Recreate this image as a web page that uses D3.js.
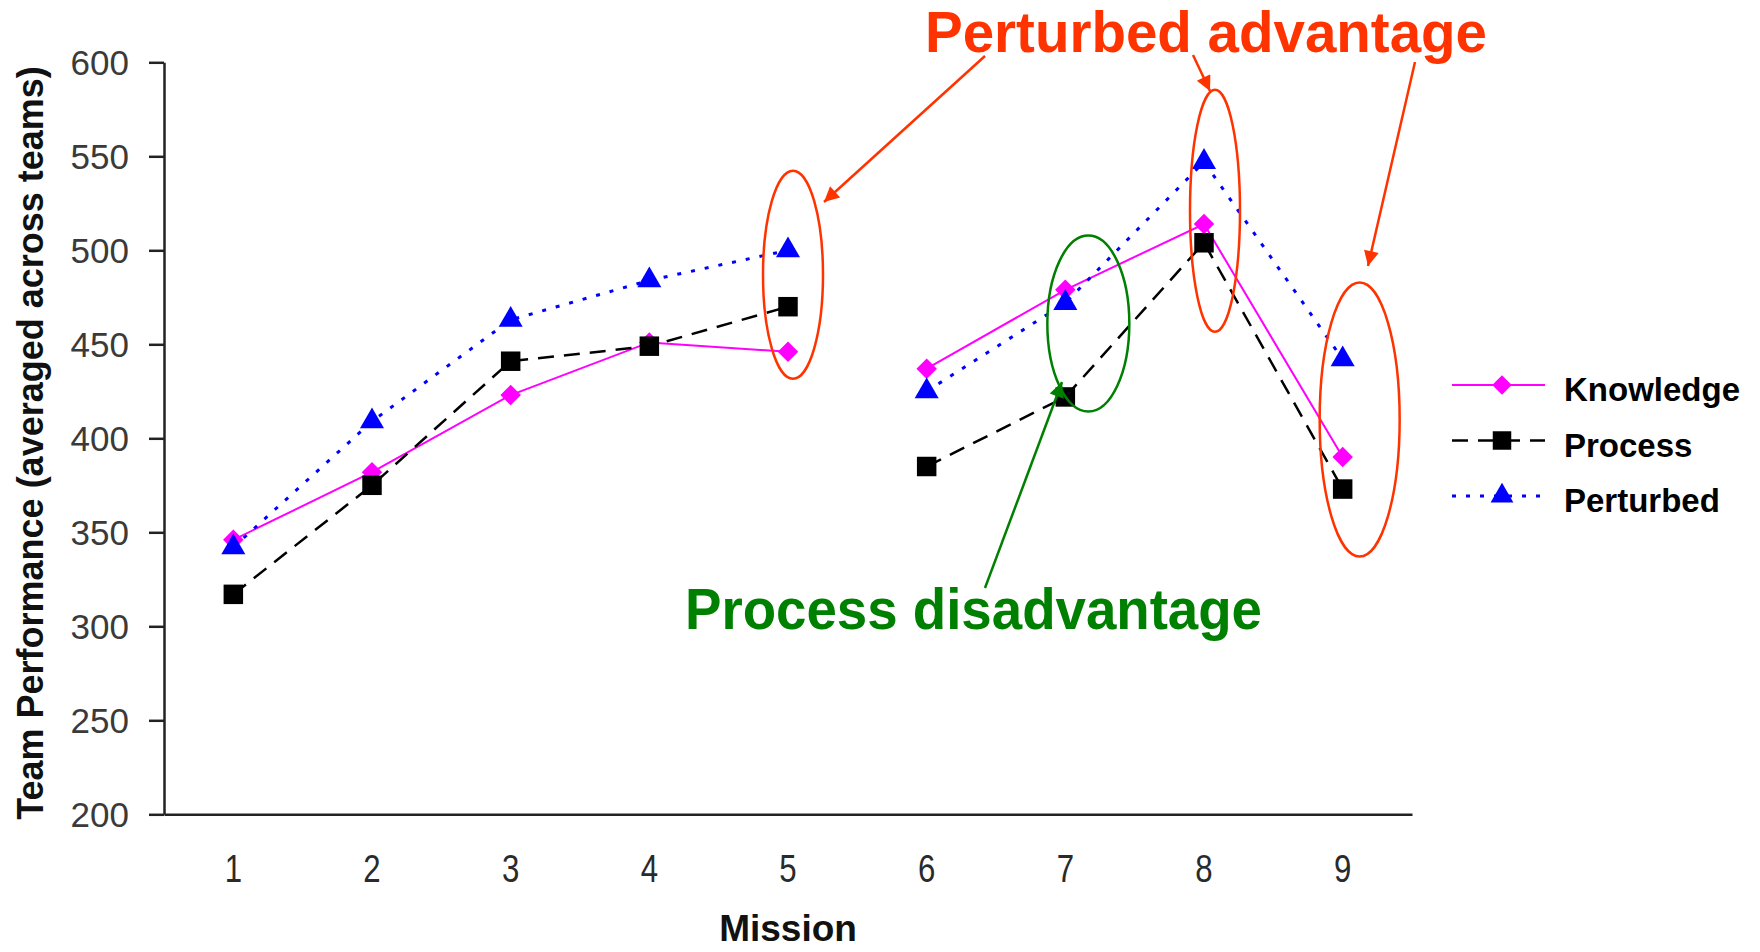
<!DOCTYPE html>
<html>
<head>
<meta charset="utf-8">
<script src="https://cdn.jsdelivr.net/npm/d3@7"></script>
<style>
  html, body { margin: 0; padding: 0; background: #fff; }
  svg { display: block; }
</style>
</head>
<body>
<svg id="chart" width="1760" height="952"></svg>
<script>
// Mission numbers and the session each mission belongs to (lines break between sessions)
const missions = ["1", "2", "3", "4", "5", "6", "7", "8", "9"];
const sessions = [1, 1, 1, 1, 1, 2, 2, 2, 2];

// Team performance averaged across teams, per condition
const knowledge = [346, 382, 423, 451, 446, 437, 479, 514, 390];
const processVals = [317, 375, 441, 449, 470, 385, 422, 504, 373];
const perturbed = [342, 409, 463, 484, 500, 425, 472, 547, 442];

const yTicks = [200, 250, 300, 350, 400, 450, 500, 550, 600];

// Diamond drawn as a square turned by 45 degrees
const series = [
  { name: "Knowledge", values: knowledge, color: "#ff00ff", dash: null, width: 2, symbol: d3.symbolSquare, rot: 45, size: 210 },
  { name: "Process", values: processVals, color: "#000000", dash: "16,10", width: 2.5, symbol: d3.symbolSquare, rot: 0, size: 380 },
  { name: "Perturbed", values: perturbed, color: "#0000ff", dash: "4,10", width: 3, symbol: d3.symbolTriangle, rot: 0, size: 250 }
];

const svg = d3.select("#chart");
const plot = { left: 164, right: 1412, top: 62.3, bottom: 814.3 };

const x = d3.scaleBand().domain(missions).range([plot.left, plot.right]);
const xc = m => x(m) + x.bandwidth() / 2;
const y = d3.scaleLinear().domain([200, 600]).range([plot.bottom, plot.top]);

// Y axis
const yAxis = svg.append("g")
  .attr("transform", `translate(${plot.left},0)`)
  .call(d3.axisLeft(y).tickValues(yTicks).tickSize(15).tickPadding(20).tickSizeOuter(0));
yAxis.select(".domain").attr("stroke", "#222").attr("stroke-width", 2.5);
yAxis.selectAll(".tick line").attr("stroke", "#222").attr("stroke-width", 2.5);
yAxis.selectAll(".tick text")
  .attr("font-family", "'Liberation Sans', Arial, sans-serif")
  .attr("font-size", 35)
  .attr("fill", "#3a3a3a")
  .attr("dy", "0.36em");

// X axis (labels only, no tick marks)
const xAxis = svg.append("g")
  .attr("transform", `translate(0,${plot.bottom})`)
  .call(d3.axisBottom(x).tickSize(0).tickPadding(0).tickSizeOuter(0));
xAxis.select(".domain").attr("stroke", "#222").attr("stroke-width", 2.5);
xAxis.selectAll(".tick").each(function (d) {
  const t = d3.select(this);
  t.attr("transform", `translate(${xc(d)},0)`);
  t.select("text")
    .attr("font-family", "'Liberation Sans', Arial, sans-serif")
    .attr("font-size", 39)
    .attr("fill", "#2a2a2a")
    .attr("dy", 0)
    .attr("x", 0)
    .attr("y", 68)
    .attr("transform", "scale(0.8,1)");
});

// Axis titles
svg.append("text")
  .attr("x", 788).attr("y", 941)
  .attr("text-anchor", "middle")
  .attr("font-family", "'Liberation Sans', Arial, sans-serif")
  .attr("font-weight", "bold")
  .attr("font-size", 37)
  .attr("fill", "#111")
  .text("Mission");

svg.append("text")
  .attr("transform", "translate(43,443) rotate(-90)")
  .attr("text-anchor", "middle")
  .attr("font-family", "'Liberation Sans', Arial, sans-serif")
  .attr("font-weight", "bold")
  .attr("font-size", 36)
  .attr("fill", "#111")
  .text("Team Performance (averaged across teams)");

// Series lines and markers
const line = d3.line().x(d => xc(d.m)).y(d => y(d.v));
const sessionIds = Array.from(new Set(sessions));

series.forEach(s => {
  const pts = s.values.map((v, i) => ({ m: missions[i], v, s: sessions[i] }));
  const g = svg.append("g").attr("class", "series");
  sessionIds.forEach(id => {
    g.append("path")
      .datum(pts.filter(p => p.s === id))
      .attr("d", line)
      .attr("fill", "none")
      .attr("stroke", s.color)
      .attr("stroke-width", s.width)
      .attr("stroke-dasharray", s.dash);
  });
  g.selectAll("path.marker")
    .data(pts)
    .join("path")
    .attr("class", "marker")
    .attr("d", d3.symbol().type(s.symbol).size(s.size))
    .attr("transform", d => `translate(${xc(d.m)},${y(d.v)}) rotate(${s.rot})`)
    .attr("fill", s.color);
});

// Legend
const legend = svg.append("g");
series.forEach((s, i) => {
  const ly = 385 + i * 55.5;
  legend.append("line")
    .attr("x1", 1452).attr("x2", 1545).attr("y1", ly).attr("y2", ly)
    .attr("stroke", s.color).attr("stroke-width", s.width)
    .attr("stroke-dasharray", s.dash);
  legend.append("path")
    .attr("d", d3.symbol().type(s.symbol).size(s.size * 0.9))
    .attr("transform", `translate(1502,${ly}) rotate(${s.rot})`)
    .attr("fill", s.color);
  legend.append("text")
    .attr("x", 1564).attr("y", ly + 16)
    .attr("font-family", "'Liberation Sans', Arial, sans-serif")
    .attr("font-weight", "bold")
    .attr("font-size", 33)
    .attr("fill", "#000")
    .text(s.name);
});

// Annotations
const red = "#ff3300";
const green = "#008000";

const defs = svg.append("defs");
[["headRed", red], ["headGreen", green]].forEach(([id, c]) => {
  defs.append("marker")
    .attr("id", id)
    .attr("viewBox", "0 0 10 10")
    .attr("refX", 10).attr("refY", 5)
    .attr("markerWidth", 7).attr("markerHeight", 6)
    .attr("markerUnits", "strokeWidth")
    .attr("orient", "auto")
    .append("path").attr("d", "M0,0 L10,5 L0,10 Z").attr("fill", c);
});

// Highlight ellipses around missions of interest
const ellipses = [
  { m: "5", dx: 5, v: 487, rx: 30, ry: 104, color: red },
  { m: "8", dx: 11, v: 521, rx: 25, ry: 121, color: red },
  { m: "9", dx: 17, v: 410, rx: 40, ry: 137, color: red },
  { m: "7", dx: 23, v: 461, rx: 41, ry: 88, color: green }
];
svg.append("g").selectAll("ellipse")
  .data(ellipses)
  .join("ellipse")
  .attr("cx", d => xc(d.m) + d.dx)
  .attr("cy", d => y(d.v))
  .attr("rx", d => d.rx)
  .attr("ry", d => d.ry)
  .attr("fill", "none")
  .attr("stroke", d => d.color)
  .attr("stroke-width", 2.5);

const arrows = [
  { x1: 985, y1: 56, x2: 824, y2: 202, head: "headRed", color: red },
  { x1: 1193, y1: 55, x2: 1210, y2: 91, head: "headRed", color: red },
  { x1: 1415, y1: 62, x2: 1368, y2: 266, head: "headRed", color: red },
  { x1: 985, y1: 588, x2: 1062, y2: 382, head: "headGreen", color: green }
];
svg.append("g").selectAll("line")
  .data(arrows)
  .join("line")
  .attr("x1", d => d.x1).attr("y1", d => d.y1)
  .attr("x2", d => d.x2).attr("y2", d => d.y2)
  .attr("stroke", d => d.color)
  .attr("stroke-width", 2.5)
  .attr("marker-end", d => `url(#${d.head})`);

svg.append("text")
  .attr("x", 925).attr("y", 52)
  .attr("font-family", "'Liberation Sans', Arial, sans-serif")
  .attr("font-weight", "bold")
  .attr("font-size", 57)
  .attr("fill", red)
  .attr("textLength", 562)
  .attr("lengthAdjust", "spacingAndGlyphs")
  .text("Perturbed advantage");

svg.append("text")
  .attr("x", 685).attr("y", 629)
  .attr("font-family", "'Liberation Sans', Arial, sans-serif")
  .attr("font-weight", "bold")
  .attr("font-size", 57)
  .attr("fill", green)
  .attr("textLength", 577)
  .attr("lengthAdjust", "spacingAndGlyphs")
  .text("Process disadvantage");
</script>
</body>
</html>
